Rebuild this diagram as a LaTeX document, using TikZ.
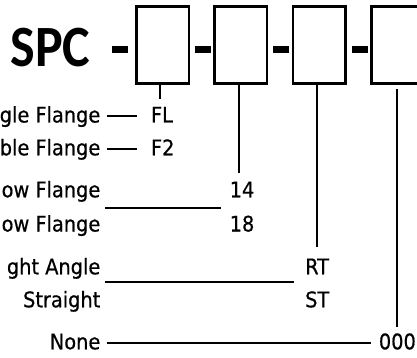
\documentclass[tikz,border=0pt]{standalone}
\usepackage{fontspec}
\newfontfamily\labfont{DejaVu Sans}[FakeStretch=0.9,FakeBold=0.6]
\newfontfamily\titlefont{Carlito}[FakeStretch=0.89]
\tikzset{
  codebox/.style={draw, line width=2.5pt, minimum width=52.5pt, minimum height=76.6pt, inner sep=0pt},
  dashbar/.style={fill=black, minimum width=16pt, minimum height=6.6pt, inner sep=0pt},
  leftlab/.style={anchor=base east, inner sep=0pt, font=\labfont\fontsize{21.5}{26}\selectfont},
  rightlab/.style={anchor=base west, inner sep=0pt, font=\labfont\fontsize{21.5}{26}\selectfont},
  link/.style={line width=2pt},
  shortlink/.style={line width=1.8pt},
}
\begin{document}
\begin{tikzpicture}[x=1pt,y=-1pt]
\useasboundingbox (0,0) rectangle (417,358);
% title
\node[anchor=base west, inner sep=0pt, font=\titlefont\bfseries\fontsize{58.5}{60}\selectfont] (spc) at (10.4,67) {SPC};
% dashes
\node[dashbar] (d1) at (119.7,49.3) {};
\node[dashbar] (d2) at (202.8,49.3) {};
\node[dashbar] (d3) at (281,49.3) {};
\node[dashbar] (d4) at (359.5,49.3) {};
% boxes
\node[codebox] (b1) at (162.5,45) {};
\node[codebox] (b2) at (240.5,45) {};
\node[codebox] (b3) at (319.3,45) {};
\node[codebox] (b4) at (397.8,45) {};
% left labels
\node[leftlab] (l1) at (100.5,122.5) {gle Flange};
\node[leftlab] (l2) at (100.5,155.3) {ble Flange};
\node[leftlab] (l3) at (100.5,197.3) {ow Flange};
\node[leftlab] (l4) at (100.5,231.5) {ow Flange};
\node[leftlab] (l5) at (100.5,274.3) {ght Angle};
\node[leftlab] (l6) at (100.5,307.3) {Straight};
\node[leftlab] (l7) at (100.5,349.3) {None};
% right labels
\node[rightlab] (r1) at (150.8,122.5) {FL};
\node[rightlab] (r2) at (150.8,155.3) {F2};
\node[rightlab] (r3) at (229.5,197.3) {14};
\node[rightlab] (r4) at (229.5,231.5) {18};
\node[rightlab] (r5) at (305,274.3) {RT};
\node[rightlab] (r6) at (305,307.3) {ST};
\node[rightlab] (r7) at (378.7,349.3) {000};
% vertical drops
\coordinate (e1) at (160,99.3);
\coordinate (e2) at (239.3,172.5);
\coordinate (e3) at (316.7,247.3);
\coordinate (e4) at (396.7,326.7);
\draw[link] (b1.south -| e1) -- (e1);
\draw[link] (b2.south -| e2) -- (e2);
\draw[link] (b3.south -| e3) -- (e3);
\draw[link] ([yshift=-4pt]b4.south -| e4) -- (e4);
% horizontal links
\coordinate (h1a) at (106.7,115.7); \coordinate (h1b) at (137.3,115.7);
\coordinate (h2a) at (106.7,149);   \coordinate (h2b) at (137.3,149);
\coordinate (h3a) at (105.3,207.5); \coordinate (h3b) at (220.7,207.5);
\coordinate (h4a) at (105.3,281.7); \coordinate (h4b) at (294,281.7);
\coordinate (h5a) at (106.7,342.7); \coordinate (h5b) at (370.7,342.7);
\draw[shortlink] (h1a) -- (h1b);
\draw[shortlink] (h2a) -- (h2b);
\draw[link] (h3a) -- (h3b);
\draw[link] (h4a) -- (h4b);
\draw[link] (h5a) -- (h5b);
\end{tikzpicture}
\end{document}
